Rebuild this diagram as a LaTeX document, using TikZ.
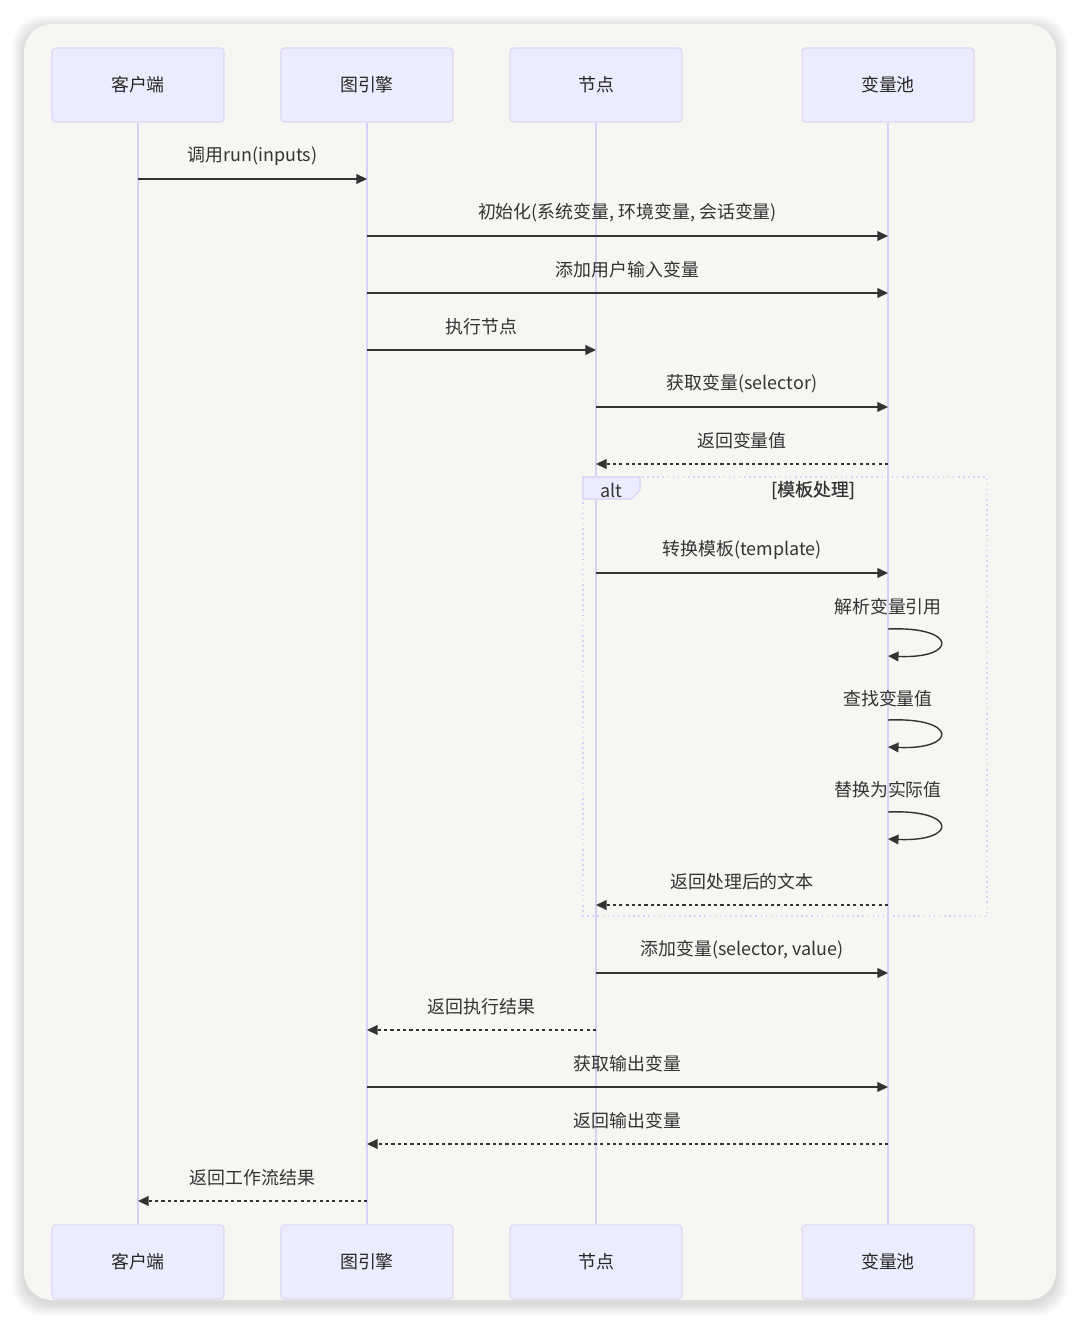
\documentclass[tikz,border=0pt]{standalone}
\usepackage{fontspec}
\setmainfont{Noto Sans CJK SC}
\newfontfamily\condfont[FakeBold=0.6]{Noto Sans CJK SC}
\usetikzlibrary{arrows.meta,positioning,calc}
\definecolor{cardbg}{HTML}{F7F6F3}
\definecolor{actorfill}{HTML}{ECECFF}
\definecolor{actorline}{HTML}{DDD5F7}
\definecolor{lifecol}{HTML}{D8D0F6}
\definecolor{inkcol}{HTML}{333333}
\tikzset{
  actorbox/.style={draw=actorline, fill=actorfill, rounded corners=2pt, line width=0.6pt,
    minimum width=3.44cm, minimum height=1.48cm, inner sep=0pt,
    font=\fontsize{10.2}{12}\selectfont, text=black!85},
  lifeline/.style={draw=lifecol, line width=1pt},
  msg/.style={-{Triangle[length=6pt,width=5.5pt]}, draw=inkcol, line width=0.8pt},
  reply/.style={msg, dash pattern=on 1.8pt off 1.8pt},
  msglabel/.style={font=\fontsize{10.2}{12}\selectfont, text=black!80, inner sep=1pt},
  altframe/.style={draw=lifecol, dotted, line width=0.9pt},
}
% name, style, from, to, y, label
\newcommand{\sendmsg}[6]{\draw[#2] (#3 |- 0,#5) -- (#4 |- 0,#5)
  node[msglabel, midway, yshift=0.46cm] (#1) {#6};}
% name, y of label, y of loop start, label
\newcommand{\selfmsg}[4]{\node[msglabel] (#1) at (var |- 0,#2) {#4};
  \draw[msg] (var |- 0,#3) .. controls +(70,-3) and +(70,3) .. (var |- 0,#3+27);}

\begin{document}
\begin{tikzpicture}[x=0.02cm, y=-0.02cm]
  \useasboundingbox (0,0) rectangle (1080,1324);

  % card with soft shadow
  \foreach \k in {1,...,12}
    \fill[black, opacity=0.011, rounded corners=0.6cm] (24-\k,27-\k) rectangle (1056+\k,1304+\k);
  \fill[cardbg, rounded corners=0.56cm] (24,24) rectangle (1056,1300);

  % actors
  \node[actorbox] (cl)  at (138,85) {客户端};
  \node[actorbox] (eng) at (367,85) {图引擎};
  \node[actorbox] (nd)  at (596,85) {节点};
  \node[actorbox] (var) at (888,85) {变量池};
  \node[actorbox] (clb)  at (138,1262) {客户端};
  \node[actorbox] (engb) at (367,1262) {图引擎};
  \node[actorbox] (ndb)  at (596,1262) {节点};
  \node[actorbox] (varb) at (888,1262) {变量池};

  \draw[lifeline] (cl) -- (clb);
  \draw[lifeline] (eng) -- (engb);
  \draw[lifeline] (nd) -- (ndb);
  \draw[lifeline] (var) -- (varb);

  % alt frame
  \draw[altframe] (583,477) rectangle (987,916);
  \draw[draw=lifecol, fill=actorfill, line width=0.6pt]
    (583,477) -- (640,477) -- (640,490) -- (632,499) -- (583,499) -- cycle;
  \node[msglabel] (alttag) at (611,490) {alt};
  \node[msglabel, font=\fontsize{10.2}{12}\condfont] (altcond) at (813,490) {[模板处理]};

  % messages
  \sendmsg{m1}{msg}{cl}{eng}{179}{调用run(inputs)}
  \sendmsg{m2}{msg}{eng}{var}{236}{初始化(系统变量, 环境变量, 会话变量)}
  \sendmsg{m3}{msg}{eng}{var}{293}{添加用户输入变量}
  \sendmsg{m4}{msg}{eng}{nd}{350}{执行节点}
  \sendmsg{m5}{msg}{nd}{var}{407}{获取变量(selector)}
  \sendmsg{m6}{reply}{var}{nd}{464}{返回变量值}
  \sendmsg{m7}{msg}{nd}{var}{573}{转换模板(template)}
  \selfmsg{s1}{607}{629}{解析变量引用}
  \selfmsg{s2}{699}{720}{查找变量值}
  \selfmsg{s3}{790}{812}{替换为实际值}
  \sendmsg{m8}{reply}{var}{nd}{905}{返回处理后的文本}
  \sendmsg{m9}{msg}{nd}{var}{973}{添加变量(selector, value)}
  \sendmsg{m10}{reply}{nd}{eng}{1030}{返回执行结果}
  \sendmsg{m11}{msg}{eng}{var}{1087}{获取输出变量}
  \sendmsg{m12}{reply}{var}{eng}{1144}{返回输出变量}
  \sendmsg{m13}{reply}{eng}{cl}{1201}{返回工作流结果}

\end{tikzpicture}
\end{document}
